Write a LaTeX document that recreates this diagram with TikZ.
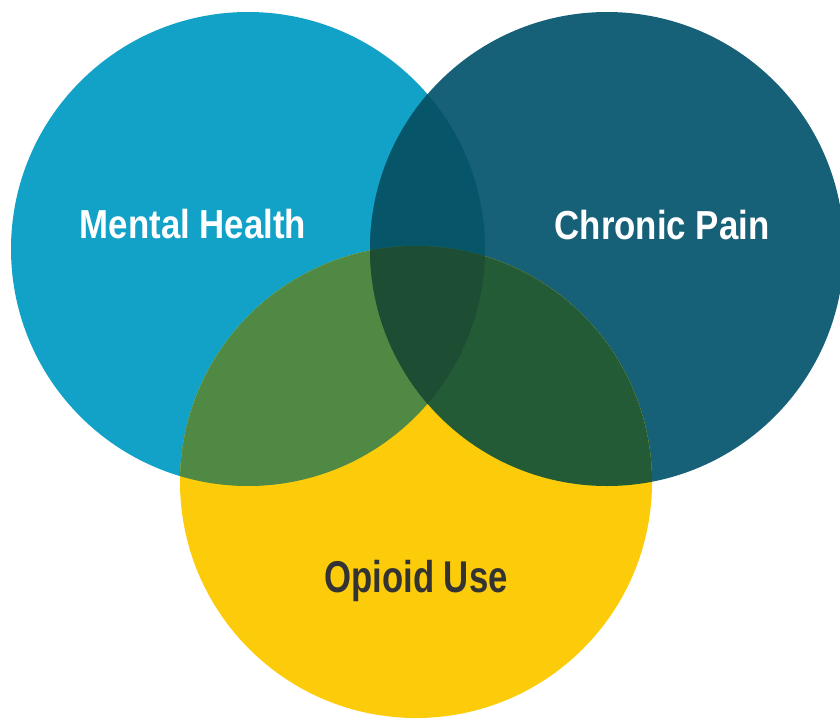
\documentclass[tikz,border=0pt]{standalone}
\usepackage{fontspec}
\newfontfamily\lblfont[FakeStretch=0.86]{Liberation Sans}
\newfontfamily\oplblfont[FakeStretch=0.78]{Liberation Sans}
\definecolor{mhblue}{HTML}{12A1C7}
\definecolor{cpteal}{HTML}{176178}
\definecolor{ouyellow}{HTML}{FCCC0A}
\definecolor{mhcp}{HTML}{065569}
\definecolor{mhou}{HTML}{4F8944}
\definecolor{cpou}{HTML}{235B37}
\definecolor{allthree}{HTML}{1D4D33}
\definecolor{darktext}{HTML}{333333}
\begin{document}
\begin{tikzpicture}[x=1pt,y=-1pt,
  whitelabel/.style={text=white,font=\lblfont\bfseries\fontsize{40.5}{44}\selectfont,anchor=base,inner sep=0pt},
  darklabel/.style={text=darktext,font=\oplblfont\bfseries\fontsize{44.5}{48}\selectfont,anchor=base,inner sep=0pt}]
\useasboundingbox (0,0) rectangle (840,720);
\coordinate (mh) at (248,249);
\coordinate (cp) at (607,249);
\coordinate (ou) at (416,482);
% plain discs
\fill[mhblue] (mh) circle[radius=237pt];
\fill[cpteal] (cp) circle[radius=237pt];
\fill[ouyellow] (ou) circle[radius=236pt];
% pairwise overlaps
\begin{scope}
  \clip (mh) circle[radius=237pt];
  \fill[mhcp] (cp) circle[radius=237pt];
  \fill[mhou] (ou) circle[radius=236pt];
\end{scope}
\begin{scope}
  \clip (cp) circle[radius=237pt];
  \fill[cpou] (ou) circle[radius=236pt];
\end{scope}
% centre, common to all three
\begin{scope}
  \clip (mh) circle[radius=237pt];
  \clip (cp) circle[radius=237pt];
  \fill[allthree] (ou) circle[radius=236pt];
\end{scope}
% labels
\node[whitelabel] (mhlabel) at (193,238) {Mental Health};
\node[whitelabel] (cplabel) at (662,239) {Chronic Pain};
\node[darklabel] (oulabel) at (416,592) {Opioid Use};
\end{tikzpicture}
\end{document}
